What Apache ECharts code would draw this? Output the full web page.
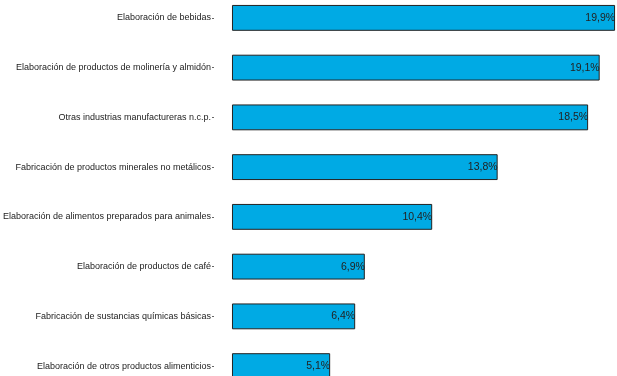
<!DOCTYPE html>
<html><head><meta charset="utf-8">
<script src="https://cdn.jsdelivr.net/npm/echarts@6/dist/echarts.min.js"></script>
<style>html,body{margin:0;padding:0;background:#fff}#c{width:617px;height:376px}</style>
</head><body><div id="c"></div>
<script>
const categories = [
  "Elaboración de bebidas",
  "Elaboración de productos de molinería y almidón",
  "Otras industrias manufactureras n.c.p.",
  "Fabricación de productos minerales no metálicos",
  "Elaboración de alimentos preparados para animales",
  "Elaboración de productos de café",
  "Fabricación de sustancias químicas básicas",
  "Elaboración de otros productos alimenticios"
];
const values = [19.9, 19.1, 18.5, 13.8, 10.4, 6.9, 6.4, 5.1];

const chart = echarts.init(document.getElementById('c'), null, {renderer: 'canvas'});
const font = "'Liberation Sans', Arial, sans-serif";
chart.setOption({
  animation: false,
  grid: {left: 214, right: 0, top: -7, bottom: -15, containLabel: false, outerBoundsMode: 'none'},
  xAxis: {type: 'value', min: -0.934, max: 20, show: false},
  yAxis: {
    type: 'category', inverse: true, data: categories,
    axisLine: {show: false, onZero: false},
    axisTick: {show: true, length: 2, alignWithLabel: true, lineStyle: {color: '#666'}},
    axisLabel: {margin: 3, color: '#222', fontSize: 9, fontFamily: font}
  },
  series: [{
    type: 'bar', data: values, barCategoryGap: '48%',
    itemStyle: {color: '#00AAE4', borderColor: '#222', borderWidth: 1},
    label: {
      show: true, position: 'insideRight', distance: 0, color: '#222',
      fontSize: 10.5, fontFamily: font,
      formatter: p => p.value.toFixed(1).replace('.', ',') + '%'
    }
  }]
});
</script></body></html>
